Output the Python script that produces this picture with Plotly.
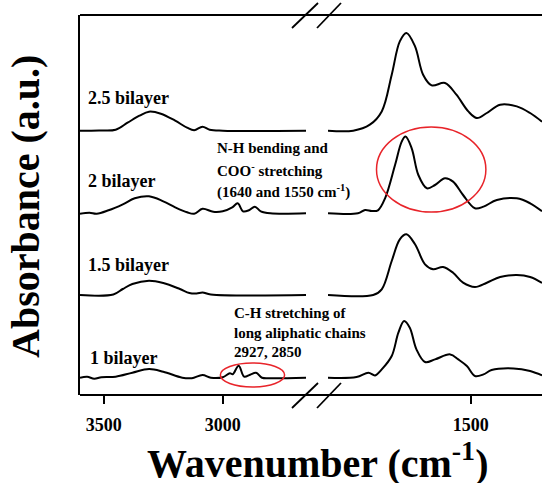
import plotly.graph_objects as go

# ---------------- data ----------------
series_names = ["1 bilayer", "1.5 bilayer", "2 bilayer", "2.5 bilayer"]
offsets = [0.173, 1.00, 1.817, 2.643]

# high-wavenumber region (3600-2650 cm-1)
wn_hi_1 = [3600, 3570, 3540, 3510, 3450, 3380, 3310, 3250, 3170, 3130, 3085, 3050, 3000, 2970, 2958, 2933, 2910, 2885, 2860, 2835, 2800, 2650]
ab_hi_1 = [0.0, 0.01, -0.01, 0.005, 0.01, 0.05, 0.087, 0.06, 0.0, -0.005, 0.027, 0.0, 0.005, 0.045, 0.035, 0.12, 0.01, 0.03, 0.05, 0.0, -0.005, 0.0]

wn_hi_15 = [3600, 3460, 3420, 3380, 3310, 3250, 3180, 3140, 3110, 3085, 3050, 2650]
ab_hi_15 = [0.0, 0.005, 0.06, 0.11, 0.143, 0.12, 0.06, 0.02, 0.015, 0.025, 0.005, 0.0]

wn_hi_2 = [3600, 3560, 3530, 3480, 3420, 3370, 3310, 3250, 3200, 3150, 3120, 3085, 3040, 3000, 2960, 2937, 2915, 2890, 2865, 2840, 2800, 2650]
ab_hi_2 = [-0.005, 0.005, -0.005, 0.03, 0.09, 0.15, 0.17, 0.12, 0.06, 0.01, -0.005, 0.045, 0.015, 0.02, 0.06, 0.10, 0.02, 0.03, 0.066, 0.02, 0.0, 0.0]

wn_hi_25 = [3600, 3520, 3450, 3400, 3350, 3310, 3260, 3200, 3150, 3120, 3085, 3055, 3000, 2650]
ab_hi_25 = [0.0, 0.003, 0.01, 0.08, 0.15, 0.19, 0.17, 0.10, 0.03, 0.005, 0.04, 0.01, 0.0, 0.0]

# low-wavenumber region (1800-1350 cm-1)
wn_lo_1 = [1800, 1740, 1715, 1701, 1687, 1666, 1652, 1640, 1628, 1614, 1596, 1575, 1543, 1526, 1508, 1491, 1473, 1456, 1410, 1375, 1350]
ab_lo_1 = [0.0, 0.007, 0.05, 0.023, 0.083, 0.217, 0.45, 0.567, 0.50, 0.283, 0.157, 0.183, 0.233, 0.183, 0.117, 0.017, 0.033, 0.077, 0.093, 0.067, 0.023]

wn_lo_15 = [1800, 1705, 1687, 1666, 1649, 1635, 1617, 1596, 1579, 1558, 1537, 1516, 1491, 1466, 1438, 1403, 1375, 1350]
ab_lo_15 = [0.0, 0.0, 0.057, 0.34, 0.557, 0.607, 0.507, 0.307, 0.257, 0.28, 0.223, 0.123, 0.08, 0.123, 0.18, 0.20, 0.18, 0.12]

wn_lo_2 = [1800, 1737, 1722, 1708, 1695, 1680, 1659, 1645, 1637, 1624, 1610, 1592, 1575, 1554, 1537, 1516, 1491, 1473, 1445, 1403, 1375, 1350]
ab_lo_2 = [0.0, 0.0, 0.033, 0.023, 0.03, 0.15, 0.483, 0.717, 0.767, 0.65, 0.383, 0.25, 0.283, 0.35, 0.317, 0.183, 0.05, 0.067, 0.133, 0.15, 0.10, 0.02]

wn_lo_25 = [1800, 1747, 1712, 1687, 1666, 1649, 1635, 1617, 1600, 1582, 1554, 1530, 1505, 1487, 1466, 1438, 1403, 1375, 1350]
ab_lo_25 = [0.0, 0.0, 0.06, 0.193, 0.56, 0.893, 0.977, 0.843, 0.56, 0.453, 0.477, 0.36, 0.193, 0.127, 0.177, 0.26, 0.243, 0.177, 0.09]

hi_x = [wn_hi_1, wn_hi_15, wn_hi_2, wn_hi_25]
hi_y = [ab_hi_1, ab_hi_15, ab_hi_2, ab_hi_25]
lo_x = [wn_lo_1, wn_lo_15, wn_lo_2, wn_lo_25]
lo_y = [ab_lo_1, ab_lo_15, ab_lo_2, ab_lo_25]

x_ticks_hi = [3500, 3000]
x_ticks_lo = [1500]

# ---------------- layout geometry ----------------
W, H = 542, 483
L, R, T, B = 80, 0, 15, 88
PW, PH = W - L - R, H - T - B
FONT = "Liberation Serif"


def px(x):
    return (x - L) / PW


def py(y):
    return (H - B - y) / PH


fig = go.Figure()
line = dict(color="black", width=2, shape="spline", smoothing=1.0)
for i in range(4):
    fig.add_trace(go.Scatter(x=hi_x[i], y=[v + offsets[i] for v in hi_y[i]], mode="lines",
                             line=line, xaxis="x", yaxis="y", showlegend=False, hoverinfo="skip"))
    fig.add_trace(go.Scatter(x=lo_x[i], y=[v + offsets[i] for v in lo_y[i]], mode="lines",
                             line=line, xaxis="x2", yaxis="y", showlegend=False, hoverinfo="skip"))

axis_common = dict(showgrid=False, zeroline=False, showline=False, ticks="outside", ticklen=8,
                   tickwidth=2, tickcolor="black", ticklabelstandoff=5,
                   tickfont=dict(family=FONT, size=18, color="black", weight="bold"))

fig.update_layout(
    width=W, height=H, margin=dict(l=L, r=R, t=T, b=B),
    paper_bgcolor="white", plot_bgcolor="white",
    xaxis=dict(domain=[0, px(306)], range=[3600, 2650], tickvals=x_ticks_hi, anchor="y", **axis_common),
    xaxis2=dict(domain=[px(328), 1], range=[1800, 1350], tickvals=x_ticks_lo, anchor="y", **axis_common),
    yaxis=dict(range=[0, 3.80], showticklabels=False, ticks="", showgrid=False, zeroline=False,
               showline=True, linewidth=2, linecolor="black"),
)

shapes = []
# frame top & bottom
for yy in (0, 1):
    shapes.append(dict(type="line", xref="paper", yref="paper", x0=0, x1=1, y0=yy, y1=yy,
                       line=dict(color="black", width=2)))
# axis break marks
for (x0, x1) in ((292, 318), (317, 341)):
    shapes.append(dict(type="line", xref="paper", yref="paper", x0=px(x0), x1=px(x1),
                       y0=py(408), y1=py(383), line=dict(color="black", width=1.8)))
    shapes.append(dict(type="line", xref="paper", yref="paper", x0=px(x0), x1=px(x1),
                       y0=py(28), y1=py(3), line=dict(color="black", width=1.8)))
# red ellipses
red = "#e8242a"
shapes.append(dict(type="circle", xref="x2", yref="y", x0=1698, x1=1468, y0=1.83, y1=2.68,
                   line=dict(color=red, width=1.5)))
shapes.append(dict(type="circle", xref="x", yref="y", x0=3010, x1=2740, y0=0.08, y1=0.32,
                   line=dict(color=red, width=1.5)))
fig.update_layout(shapes=shapes)

ann = []


def text(x, y, s, size, **kw):
    d = dict(xref="paper", yref="paper", x=px(x), y=py(y), text=s, showarrow=False,
             xanchor="left", yanchor="middle",
             font=dict(family=FONT, size=size, color="black", weight="bold"))
    d.update(kw)
    ann.append(d)


label_pos = [(88, 358), (86, 265), (86, 181), (86, 98)]
for name, (lx, ly) in zip(series_names, label_pos):
    text(lx, ly, name, 18)

text(215, 148, "N-H bending and", 15)
text(215, 170, "COO<sup>-</sup> stretching", 15)
text(215, 191, "(1640 and 1550 cm<sup>-1</sup>)", 15)
text(232, 313, "C-H stretching of", 15)
text(232, 333, "long aliphatic chains", 15)
text(232, 352, "2927, 2850", 15)

text(317, 460, "Wavenumber (cm<sup>-1</sup>)", 40, xanchor="center")
text(25, 207, "Absorbance (a.u.)", 40, xanchor="center", textangle=-90)

fig.update_layout(annotations=ann)
fig.write_html("out.html", config={"displayModeBar": False},
               post_script="document.body.style.margin='0';document.body.style.padding='0';")
